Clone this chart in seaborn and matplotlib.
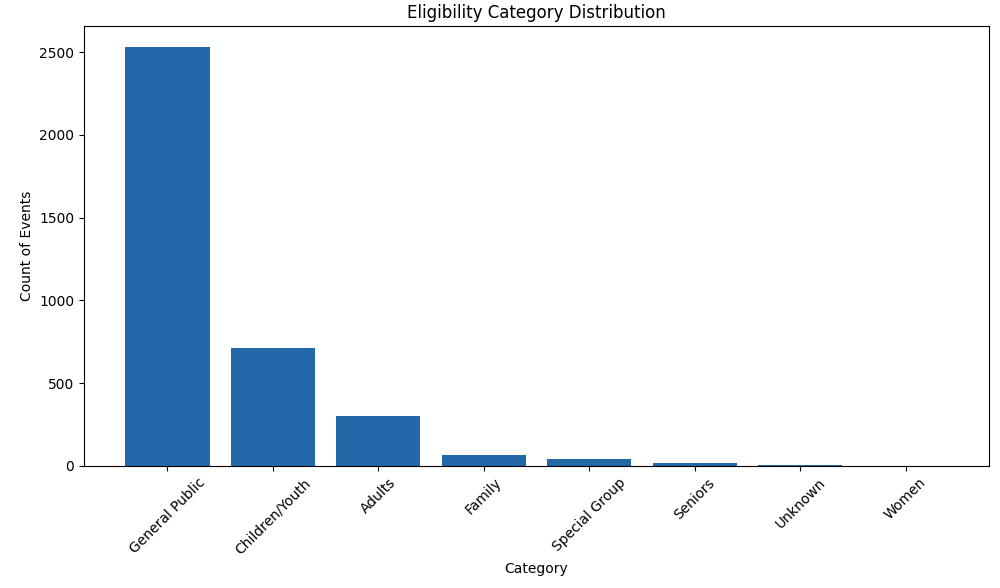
import pandas as pd
import matplotlib
matplotlib.use("Agg")
import matplotlib.pyplot as plt
import seaborn as sns

categories = [
    "General Public",
    "Children/Youth",
    "Adults",
    "Family",
    "Special Group",
    "Seniors",
    "Unknown",
    "Women",
]
counts = [2532, 713, 302, 66, 42, 18, 6, 1]


def plot_distribution(df: pd.DataFrame):
    """
    Bar chart of eligibility categories.
    """
    fig, ax = plt.subplots(figsize=(10, 5.88), dpi=100)

    sns.barplot(
        data=df,
        x="Category",
        y="Count",
        color="#2369a9",
        saturation=1,
        width=0.8,
        linewidth=0,
        ax=ax,
    )

    n = len(df)
    ax.set_xlim(-0.4 - 0.39, n - 1 + 0.4 + 0.39)
    ax.set_xlabel("Category")
    ax.set_ylabel("Count of Events")
    ax.set_title("Eligibility Category Distribution")
    plt.xticks(rotation=45)
    fig.subplots_adjust(left=0.084, right=0.989, top=0.9558, bottom=0.2075)
    plt.savefig("out.png", dpi=100)
    plt.close()


def main():
    df = pd.DataFrame({"Category": categories, "Count": counts})
    plot_distribution(df)


if __name__ == "__main__":
    main()
